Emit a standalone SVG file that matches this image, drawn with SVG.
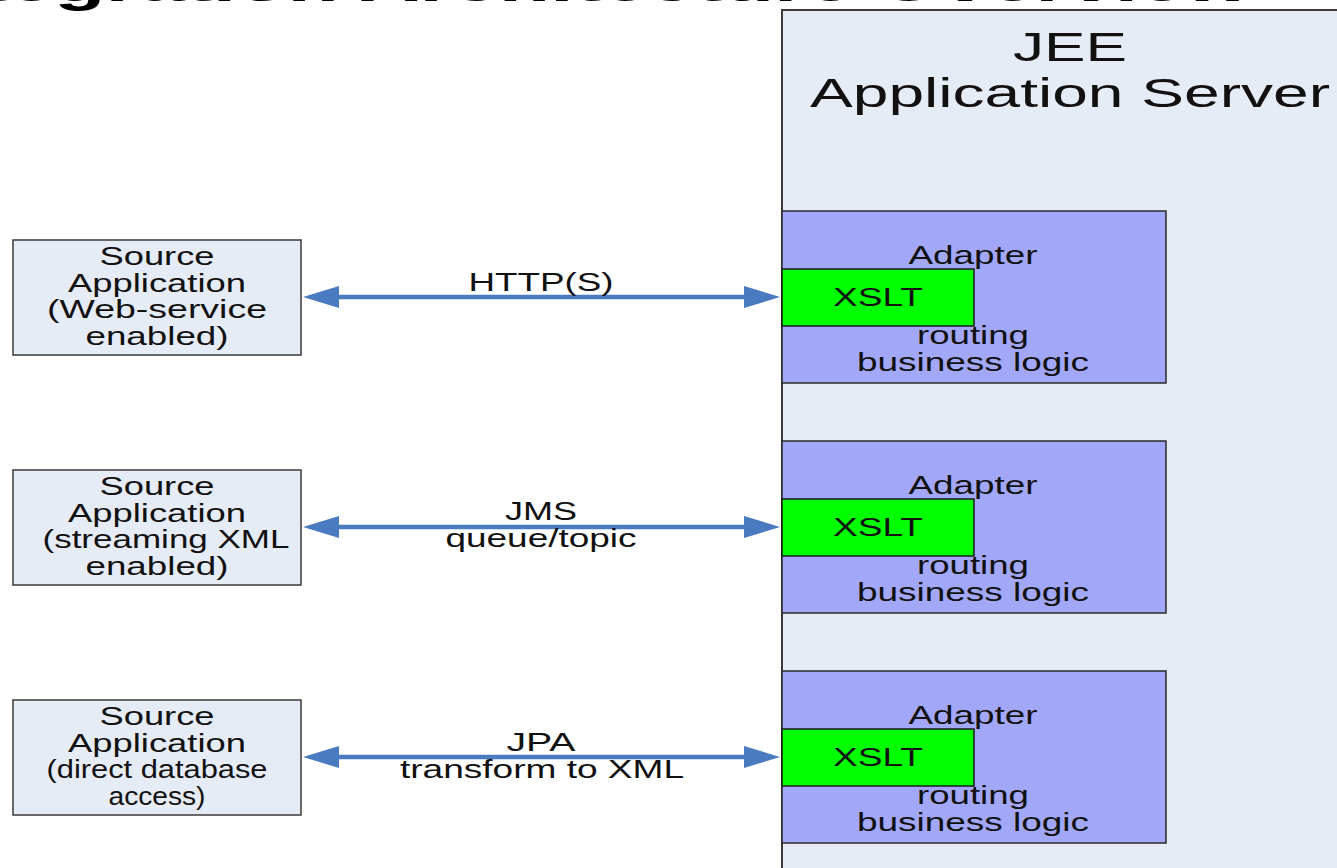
<svg xmlns="http://www.w3.org/2000/svg" width="1337" height="868" viewBox="0 0 1337 868">
<defs>
<style>
text{font-family:"Liberation Sans",Arial,sans-serif;fill:#111;text-anchor:middle}
.t{font-size:25px}
.big{font-size:40px}
.title{font-size:50px;font-weight:bold;text-anchor:start;fill:#000}
.src{fill:#e6ecf6;stroke:#3a3a3a;stroke-width:1.5}
.srv{fill:#e6ecf6;stroke:#3a3a3a;stroke-width:2}
.ad{fill:#a3a7f8;stroke:#2a2a2a;stroke-width:1.5}
.xs{fill:#00ff00;stroke:#1a1a1a;stroke-width:1.5}
.conn{stroke:#4a7bc0;stroke-width:4.5;fill:none;marker-start:url(#ah);marker-end:url(#ah)}
</style>
<marker id="ah" markerUnits="userSpaceOnUse" viewBox="0 0 36 24" markerWidth="36" markerHeight="24" refX="6" refY="12" orient="auto-start-reverse">
<path d="M0,1 L36,12 L0,23 z" fill="#4a7bc0"/>
</marker>
</defs>
<rect width="1337" height="868" fill="#fff"/>
<g id="title">
<text class="title" x="-95" y="1" textLength="1345" lengthAdjust="spacingAndGlyphs">Integration Architecture Overview</text>
</g>
<g id="jee-server">
<rect class="srv" x="782" y="10" width="570" height="870"/>
<text class="big" x="1070" y="61" textLength="114" lengthAdjust="spacingAndGlyphs">JEE</text>
<text class="big" x="1070" y="107" textLength="520" lengthAdjust="spacingAndGlyphs">Application Server</text>
</g>
<g id="source-ws">
<rect class="src" x="13" y="240" width="288" height="115"/>
<text class="t" x="157" y="265" textLength="115" lengthAdjust="spacingAndGlyphs">Source</text>
<text class="t" x="157" y="292" textLength="178" lengthAdjust="spacingAndGlyphs">Application</text>
<text class="t" x="157" y="318" textLength="220" lengthAdjust="spacingAndGlyphs">(Web-service</text>
<text class="t" x="157" y="345" textLength="143" lengthAdjust="spacingAndGlyphs">enabled)</text>
</g>
<g id="source-xml">
<rect class="src" x="13" y="470" width="288" height="115"/>
<text class="t" x="157" y="495" textLength="115" lengthAdjust="spacingAndGlyphs">Source</text>
<text class="t" x="157" y="522" textLength="178" lengthAdjust="spacingAndGlyphs">Application</text>
<text class="t" x="166" y="548" textLength="247" lengthAdjust="spacingAndGlyphs">(streaming XML</text>
<text class="t" x="157" y="575" textLength="143" lengthAdjust="spacingAndGlyphs">enabled)</text>
</g>
<g id="source-db">
<rect class="src" x="13" y="700" width="288" height="115"/>
<text class="t" x="157" y="725" textLength="115" lengthAdjust="spacingAndGlyphs">Source</text>
<text class="t" x="157" y="752" textLength="178" lengthAdjust="spacingAndGlyphs">Application</text>
<text class="t" x="157" y="778" textLength="221" lengthAdjust="spacingAndGlyphs">(direct database</text>
<text class="t" x="157" y="805" textLength="97" lengthAdjust="spacingAndGlyphs">access)</text>
</g>
<g id="adapter-1">
<rect class="ad" x="782" y="211" width="384" height="172"/>
<text class="t" x="973" y="264" textLength="129" lengthAdjust="spacingAndGlyphs">Adapter</text>
<rect class="xs" x="782" y="269" width="192" height="57"/>
<text class="t" x="878" y="306" textLength="90" lengthAdjust="spacingAndGlyphs">XSLT</text>
<text class="t" x="973" y="344" textLength="112" lengthAdjust="spacingAndGlyphs">routing</text>
<text class="t" x="973" y="371" textLength="232" lengthAdjust="spacingAndGlyphs">business logic</text>
</g>
<g id="adapter-2">
<rect class="ad" x="782" y="441" width="384" height="172"/>
<text class="t" x="973" y="494" textLength="129" lengthAdjust="spacingAndGlyphs">Adapter</text>
<rect class="xs" x="782" y="499" width="192" height="57"/>
<text class="t" x="878" y="536" textLength="90" lengthAdjust="spacingAndGlyphs">XSLT</text>
<text class="t" x="973" y="574" textLength="112" lengthAdjust="spacingAndGlyphs">routing</text>
<text class="t" x="973" y="601" textLength="232" lengthAdjust="spacingAndGlyphs">business logic</text>
</g>
<g id="adapter-3">
<rect class="ad" x="782" y="671" width="384" height="172"/>
<text class="t" x="973" y="724" textLength="129" lengthAdjust="spacingAndGlyphs">Adapter</text>
<rect class="xs" x="782" y="729" width="192" height="57"/>
<text class="t" x="878" y="766" textLength="90" lengthAdjust="spacingAndGlyphs">XSLT</text>
<text class="t" x="973" y="804" textLength="112" lengthAdjust="spacingAndGlyphs">routing</text>
<text class="t" x="973" y="831" textLength="232" lengthAdjust="spacingAndGlyphs">business logic</text>
</g>
<g id="connectors">
<line class="conn" x1="333" y1="297" x2="750" y2="297"/>
<line class="conn" x1="333" y1="527" x2="750" y2="527"/>
<line class="conn" x1="333" y1="757" x2="750" y2="757"/>
<text class="t" x="541" y="291" textLength="145" lengthAdjust="spacingAndGlyphs">HTTP(S)</text>
<text class="t" x="541" y="520" textLength="72" lengthAdjust="spacingAndGlyphs">JMS</text>
<text class="t" x="541" y="547" textLength="191" lengthAdjust="spacingAndGlyphs">queue/topic</text>
<text class="t" x="541" y="751" textLength="69" lengthAdjust="spacingAndGlyphs">JPA</text>
<text class="t" x="542" y="778" textLength="284" lengthAdjust="spacingAndGlyphs">transform to XML</text>
</g>
</svg>
